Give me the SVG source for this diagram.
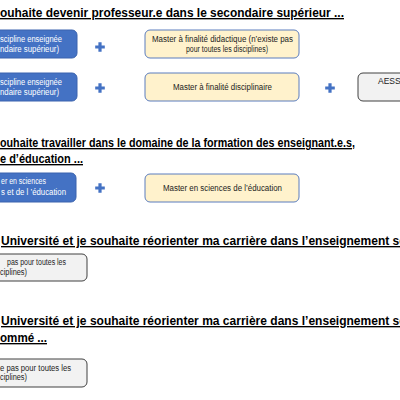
<svg xmlns="http://www.w3.org/2000/svg" width="400" height="400" viewBox="0 0 400 400">
<defs>
<style>
.title{font-family:"Liberation Sans",Arial,sans-serif;font-weight:bold;font-size:13.5px;fill:#000;text-decoration:underline;}
.t{font-family:"Liberation Sans",Arial,sans-serif;font-size:8.5px;fill:#222;}
.tw{font-family:"Liberation Sans",Arial,sans-serif;font-size:8.5px;fill:#fff;}
.blue{fill:#4472C4;stroke:#3A63AE;stroke-width:1;}
.yel{fill:#FFF2CC;stroke:#5B7DBE;stroke-width:1;}
.grey{fill:#F2F2F2;stroke:#404040;stroke-width:1;}
.plus{fill:#4472C4;}
</style>
<path id="plusShape" d="M-1.6,-4.8 H1.6 V-1.6 H4.8 V1.6 H1.6 V4.8 H-1.6 V1.6 H-4.8 V-1.6 H-1.6 Z"/>
</defs>
<rect width="400" height="400" fill="#fff"/>

<g id="titles">
<text class="title" x="0" y="17" textLength="344" lengthAdjust="spacingAndGlyphs">ouhaite devenir professeur.e dans le secondaire supérieur ...</text>
<text class="title" x="0" y="147" textLength="355" lengthAdjust="spacingAndGlyphs">ouhaite travailler dans le domaine de la formation des enseignant.e.s,</text>
<text class="title" x="0" y="163" textLength="83" lengthAdjust="spacingAndGlyphs">e d’éducation ...</text>
<text class="title" x="1" y="245" textLength="405" lengthAdjust="spacingAndGlyphs">Université et je souhaite réorienter ma carrière dans l’enseignement se</text>
<text class="title" x="1" y="325" textLength="405" lengthAdjust="spacingAndGlyphs">Université et je souhaite réorienter ma carrière dans l’enseignement se</text>
<text class="title" x="0" y="342" textLength="47" lengthAdjust="spacingAndGlyphs">ommé ...</text>
</g>

<g id="node-discipline-1">
<rect class="blue" x="-10" y="30" width="87" height="28" rx="5"/>
<text class="tw" x="62" y="42" text-anchor="end" textLength="62" lengthAdjust="spacingAndGlyphs">scipline enseignée</text>
<text class="tw" x="59" y="52" text-anchor="end" textLength="59" lengthAdjust="spacingAndGlyphs">ndaire supérieur)</text>
</g>
<g id="node-master-didactique">
<rect class="yel" x="145" y="30" width="154" height="28" rx="5"/>
<text class="t" x="222.5" y="42" text-anchor="middle" textLength="141" lengthAdjust="spacingAndGlyphs">Master à finalité didactique (n’existe pas</text>
<text class="t" x="227" y="52" text-anchor="middle" textLength="82" lengthAdjust="spacingAndGlyphs">pour toutes les disciplines)</text>
</g>

<g id="node-discipline-2">
<rect class="blue" x="-10" y="73" width="87" height="28" rx="5"/>
<text class="tw" x="62" y="85" text-anchor="end" textLength="62" lengthAdjust="spacingAndGlyphs">scipline enseignée</text>
<text class="tw" x="59" y="95" text-anchor="end" textLength="59" lengthAdjust="spacingAndGlyphs">ndaire supérieur)</text>
</g>
<g id="node-master-disciplinaire">
<rect class="yel" x="145" y="73" width="154" height="28" rx="5"/>
<text class="t" x="222.5" y="90" text-anchor="middle" textLength="99" lengthAdjust="spacingAndGlyphs">Master à finalité disciplinaire</text>
</g>
<g id="node-aess">
<rect class="grey" x="358" y="73" width="60" height="28" rx="5"/>
<text class="t" x="378" y="84">AESS (</text>
</g>

<g id="node-master-sciences-edu">
<rect class="blue" x="-10" y="173" width="86" height="29" rx="5"/>
<text class="tw" x="1" y="184" textLength="45" lengthAdjust="spacingAndGlyphs">er en sciences</text>
<text class="tw" x="1" y="194.5" textLength="65" lengthAdjust="spacingAndGlyphs">s et de l ’éducation</text>
</g>
<g id="node-master-sciences-edu-2">
<rect class="yel" x="145" y="174" width="154" height="28" rx="5"/>
<text class="t" x="222.5" y="191" text-anchor="middle" textLength="119" lengthAdjust="spacingAndGlyphs">Master  en sciences de l’éducation</text>
</g>

<g id="node-grey-4">
<rect class="grey" x="-10" y="254" width="97" height="27" rx="5"/>
<text class="t" x="7" y="264.5" textLength="59" lengthAdjust="spacingAndGlyphs">pas pour toutes les</text>
<text class="t" x="0" y="275" textLength="27" lengthAdjust="spacingAndGlyphs">ciplines)</text>
</g>
<g id="node-grey-5">
<rect class="grey" x="-10" y="359" width="97" height="28" rx="5"/>
<text class="t" x="0" y="370.5" textLength="71" lengthAdjust="spacingAndGlyphs">e pas pour toutes les</text>
<text class="t" x="0" y="380" textLength="27" lengthAdjust="spacingAndGlyphs">ciplines)</text>
</g>

<g id="connectors" class="plus">
<use href="#plusShape" x="100" y="47"/>
<use href="#plusShape" x="100" y="88"/>
<use href="#plusShape" x="330" y="88"/>
<use href="#plusShape" x="100" y="188"/>
</g>
</svg>
